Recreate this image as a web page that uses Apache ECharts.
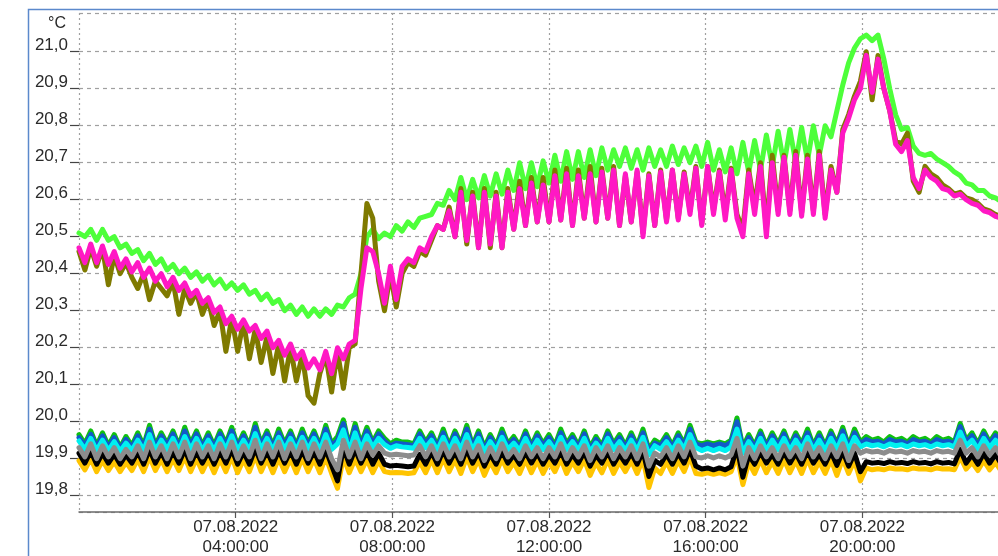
<!DOCTYPE html>
<html><head><meta charset="utf-8">
<script src="https://cdn.jsdelivr.net/npm/echarts@6/dist/echarts.min.js"></script>
<style>html,body{margin:0;padding:0;background:#fff}#c{width:998px;height:556px}</style>
</head><body><div id="c"></div>
<script>
// ---------- data ----------
const dateLabel = '07.08.2022';
const unitLabel = '°C';
const startHour = 0;      // first sample (hours after midnight)
const stepHours = 0.15;   // sampling interval of the logger (9 min)
const yMin = 19.8, yMax = 21.0, yStep = 0.1;
const xMin = 0, xMax = 24, xStep = 4;

const lightGreen = [
 20.51,20.50,20.52,20.49,20.52,20.49,20.50,20.47,20.48,20.455,20.465,20.435,20.455,20.425,20.44,20.41,20.425,20.40,20.415,20.39,
 20.405,20.38,20.395,20.37,20.385,20.36,20.375,20.355,20.37,20.345,20.355,20.33,20.345,20.32,20.33,20.30,20.315,20.29,20.31,20.285,
 20.305,20.285,20.305,20.29,20.315,20.31,20.335,20.345,20.40,20.50,20.52,20.495,20.51,20.50,20.53,20.515,20.54,20.525,20.55,20.555,
 20.56,20.59,20.585,20.625,20.60,20.66,20.60,20.655,20.605,20.665,20.61,20.67,20.615,20.68,20.625,20.70,20.63,20.70,20.635,20.705,
 20.645,20.72,20.65,20.73,20.655,20.73,20.66,20.735,20.665,20.74,20.68,20.735,20.69,20.74,20.685,20.735,20.68,20.74,20.69,20.735,
 20.69,20.745,20.695,20.74,20.70,20.745,20.69,20.755,20.68,20.735,20.675,20.74,20.67,20.755,20.675,20.76,20.68,20.775,20.69,20.785,
 20.695,20.79,20.70,20.795,20.705,20.80,20.72,20.80,20.77,20.84,20.91,20.97,21.01,21.035,21.045,21.03,21.045,20.98,20.90,20.83,
 20.79,20.795,20.745,20.725,20.72,20.725,20.71,20.70,20.69,20.675,20.665,20.645,20.64,20.625,20.625,20.61,20.605,20.595,20.59,20.585
];
const magenta = [
 20.47,20.43,20.48,20.43,20.475,20.425,20.46,20.415,20.44,20.405,20.43,20.39,20.415,20.38,20.40,20.365,20.39,20.355,20.375,20.34,
 20.355,20.32,20.335,20.295,20.31,20.265,20.285,20.25,20.275,20.245,20.26,20.225,20.245,20.20,20.22,20.18,20.21,20.17,20.19,20.145,
 20.17,20.14,20.19,20.13,20.20,20.17,20.21,20.22,20.36,20.47,20.46,20.40,20.32,20.42,20.33,20.42,20.44,20.43,20.47,20.46,
 20.50,20.53,20.52,20.57,20.50,20.62,20.49,20.61,20.47,20.62,20.48,20.61,20.47,20.62,20.52,20.63,20.53,20.645,20.54,20.64,
 20.54,20.665,20.545,20.67,20.53,20.665,20.55,20.67,20.54,20.675,20.55,20.68,20.53,20.67,20.54,20.68,20.50,20.665,20.53,20.675,
 20.54,20.68,20.545,20.67,20.56,20.685,20.53,20.69,20.56,20.675,20.545,20.68,20.55,20.50,20.67,20.56,20.69,20.50,20.70,20.56,
 20.715,20.56,20.72,20.555,20.71,20.56,20.72,20.55,20.68,20.62,20.78,20.82,20.87,20.90,20.99,20.89,20.98,20.90,20.84,20.75,
 20.73,20.76,20.66,20.63,20.68,20.66,20.65,20.63,20.625,20.61,20.615,20.60,20.59,20.585,20.57,20.565,20.555,20.55,20.555,20.55
];
const olive = [
 20.46,20.41,20.47,20.42,20.47,20.37,20.45,20.40,20.43,20.39,20.36,20.40,20.33,20.38,20.36,20.34,20.38,20.29,20.36,20.32,
 20.35,20.29,20.33,20.26,20.30,20.19,20.28,20.19,20.27,20.17,20.25,20.16,20.23,20.13,20.21,20.11,20.20,20.11,20.18,20.07,
 20.05,20.13,20.18,20.08,20.19,20.09,20.20,20.21,20.40,20.59,20.55,20.38,20.30,20.40,20.31,20.40,20.43,20.42,20.46,20.45,
 20.49,20.53,20.52,20.58,20.50,20.63,20.48,20.62,20.47,20.63,20.47,20.62,20.47,20.63,20.52,20.65,20.53,20.66,20.54,20.66,
 20.54,20.68,20.545,20.685,20.53,20.68,20.55,20.69,20.54,20.685,20.55,20.69,20.53,20.665,20.54,20.675,20.51,20.67,20.53,20.68,
 20.545,20.68,20.55,20.675,20.57,20.69,20.535,20.69,20.57,20.68,20.56,20.685,20.56,20.52,20.68,20.58,20.70,20.52,20.72,20.57,
 20.72,20.57,20.73,20.565,20.72,20.57,20.73,20.56,20.69,20.62,20.79,20.83,20.88,20.92,21.00,20.87,20.99,20.90,20.84,20.76,
 20.75,20.78,20.65,20.62,20.69,20.67,20.66,20.64,20.63,20.615,20.62,20.605,20.60,20.59,20.575,20.57,20.56,20.555,20.56,20.555
];
const green = [
 19.965,19.94,19.975,19.935,19.97,19.935,19.965,19.93,19.96,19.935,19.97,19.935,19.99,19.935,19.97,19.94,19.975,19.935,19.985,19.94,
 19.975,19.935,19.97,19.935,19.975,19.94,19.985,19.935,19.97,19.935,19.995,19.94,19.975,19.935,19.98,19.94,19.975,19.935,19.98,19.94,
 19.975,19.935,19.99,19.94,19.96,20.005,19.935,19.995,19.94,19.985,19.945,19.975,19.955,19.94,19.95,19.945,19.945,19.94,19.975,19.945,
 19.97,19.935,19.98,19.935,19.975,19.94,19.99,19.935,19.975,19.93,19.965,19.935,19.98,19.94,19.96,19.935,19.975,19.935,19.97,19.94,
 19.965,19.935,19.98,19.94,19.965,19.935,19.975,19.93,19.96,19.935,19.975,19.94,19.965,19.935,19.97,19.935,19.98,19.925,19.95,19.94,
 19.965,19.935,19.97,19.94,19.99,19.945,19.94,19.945,19.94,19.945,19.94,19.95,20.01,19.93,19.965,19.935,19.975,19.935,19.97,19.94,
 19.975,19.935,19.97,19.94,19.98,19.935,19.97,19.935,19.975,19.94,19.985,19.935,19.98,19.945,19.96,19.95,19.955,19.945,19.96,19.95,
 19.955,19.945,19.96,19.95,19.955,19.945,19.96,19.95,19.955,19.945,19.995,19.95,19.97,19.94,19.975,19.945,19.97,19.94,19.965,19.945
];
const blue = [
 19.957,19.935,19.966,19.930,19.962,19.930,19.957,19.927,19.952,19.930,19.962,19.930,19.980,19.930,19.962,19.935,19.967,19.930,19.975,19.935,
 19.967,19.930,19.962,19.930,19.967,19.935,19.975,19.930,19.962,19.930,19.985,19.935,19.967,19.930,19.970,19.935,19.967,19.930,19.970,19.935,
 19.967,19.930,19.980,19.935,19.950,19.995,19.930,19.985,19.935,19.975,19.940,19.967,19.947,19.935,19.942,19.940,19.938,19.935,19.967,19.940,
 19.962,19.930,19.970,19.930,19.967,19.935,19.980,19.930,19.967,19.925,19.957,19.930,19.970,19.935,19.952,19.930,19.967,19.930,19.962,19.935,
 19.957,19.930,19.970,19.935,19.957,19.930,19.967,19.925,19.952,19.930,19.967,19.935,19.957,19.930,19.962,19.930,19.970,19.920,19.942,19.935,
 19.957,19.930,19.962,19.935,19.980,19.940,19.935,19.940,19.935,19.940,19.935,19.945,20.000,19.925,19.957,19.930,19.967,19.930,19.962,19.935,
 19.967,19.930,19.962,19.935,19.970,19.930,19.962,19.930,19.967,19.935,19.975,19.930,19.970,19.940,19.952,19.945,19.947,19.940,19.952,19.945,
 19.947,19.940,19.952,19.945,19.947,19.940,19.952,19.945,19.947,19.940,19.987,19.945,19.962,19.935,19.967,19.940,19.962,19.935,19.957,19.940
];
const cyan = [
 19.948,19.925,19.955,19.922,19.950,19.922,19.946,19.920,19.942,19.922,19.950,19.922,19.965,19.922,19.950,19.925,19.955,19.922,19.960,19.925,
 19.955,19.922,19.950,19.922,19.955,19.925,19.962,19.922,19.950,19.922,19.968,19.925,19.955,19.922,19.958,19.925,19.955,19.922,19.958,19.925,
 19.955,19.922,19.965,19.925,19.940,19.978,19.920,19.970,19.925,19.962,19.930,19.955,19.938,19.928,19.935,19.932,19.930,19.928,19.955,19.930,
 19.950,19.922,19.958,19.922,19.955,19.925,19.965,19.922,19.955,19.918,19.946,19.922,19.958,19.925,19.942,19.922,19.955,19.922,19.950,19.925,
 19.946,19.922,19.958,19.925,19.946,19.922,19.955,19.918,19.942,19.922,19.955,19.925,19.946,19.922,19.950,19.922,19.958,19.910,19.935,19.925,
 19.946,19.922,19.950,19.925,19.965,19.930,19.922,19.928,19.922,19.928,19.922,19.932,19.980,19.915,19.946,19.922,19.955,19.922,19.950,19.925,
 19.955,19.922,19.950,19.925,19.958,19.922,19.950,19.922,19.955,19.925,19.962,19.922,19.958,19.932,19.940,19.935,19.938,19.932,19.940,19.935,
 19.938,19.932,19.940,19.935,19.938,19.932,19.940,19.935,19.938,19.932,19.972,19.935,19.950,19.925,19.955,19.930,19.950,19.925,19.946,19.930
];
const gray = [
 19.930,19.905,19.940,19.900,19.935,19.905,19.930,19.900,19.925,19.905,19.935,19.900,19.945,19.905,19.935,19.900,19.940,19.905,19.945,19.900,
 19.940,19.905,19.935,19.900,19.940,19.905,19.945,19.900,19.935,19.905,19.950,19.900,19.940,19.905,19.945,19.900,19.940,19.905,19.945,19.900,
 19.940,19.905,19.945,19.900,19.870,19.950,19.905,19.945,19.900,19.940,19.910,19.935,19.915,19.910,19.912,19.910,19.908,19.910,19.935,19.905,
 19.935,19.900,19.940,19.905,19.935,19.900,19.945,19.905,19.935,19.895,19.930,19.900,19.940,19.905,19.925,19.900,19.935,19.905,19.930,19.900,
 19.930,19.905,19.940,19.900,19.930,19.905,19.935,19.895,19.930,19.905,19.935,19.900,19.930,19.905,19.935,19.900,19.940,19.880,19.915,19.905,
 19.930,19.900,19.935,19.905,19.945,19.905,19.902,19.908,19.902,19.908,19.902,19.910,19.955,19.880,19.930,19.900,19.935,19.905,19.930,19.900,
 19.935,19.905,19.930,19.900,19.940,19.905,19.930,19.900,19.935,19.905,19.940,19.895,19.935,19.915,19.922,19.918,19.920,19.915,19.922,19.918,
 19.920,19.915,19.922,19.918,19.920,19.915,19.922,19.918,19.920,19.915,19.950,19.915,19.930,19.905,19.935,19.910,19.930,19.905,19.925,19.910
];
const black = [
 19.915,19.888,19.920,19.885,19.915,19.888,19.912,19.885,19.910,19.888,19.918,19.885,19.925,19.888,19.918,19.885,19.920,19.888,19.925,19.885,
 19.920,19.888,19.918,19.885,19.920,19.888,19.925,19.885,19.918,19.885,19.928,19.888,19.920,19.885,19.922,19.888,19.920,19.885,19.922,19.888,
 19.920,19.885,19.925,19.882,19.840,19.930,19.885,19.925,19.888,19.920,19.885,19.915,19.885,19.880,19.882,19.880,19.878,19.880,19.912,19.885,
 19.918,19.885,19.922,19.888,19.918,19.885,19.925,19.888,19.918,19.880,19.912,19.885,19.920,19.888,19.910,19.885,19.918,19.888,19.915,19.885,
 19.912,19.888,19.920,19.885,19.912,19.888,19.918,19.880,19.910,19.888,19.918,19.885,19.912,19.888,19.915,19.885,19.920,19.852,19.895,19.885,
 19.912,19.885,19.915,19.888,19.925,19.880,19.872,19.875,19.870,19.875,19.870,19.878,19.930,19.850,19.910,19.885,19.918,19.888,19.912,19.885,
 19.918,19.888,19.915,19.885,19.920,19.888,19.912,19.885,19.918,19.882,19.920,19.880,19.915,19.865,19.892,19.888,19.890,19.887,19.892,19.888,
 19.890,19.887,19.892,19.888,19.890,19.886,19.892,19.888,19.890,19.886,19.925,19.888,19.910,19.885,19.915,19.888,19.912,19.885,19.908,19.888
];
const yellow = [
 19.895,19.870,19.900,19.865,19.895,19.868,19.892,19.865,19.890,19.868,19.898,19.865,19.905,19.868,19.898,19.865,19.900,19.868,19.905,19.865,
 19.900,19.865,19.898,19.862,19.900,19.865,19.905,19.862,19.898,19.865,19.908,19.865,19.900,19.862,19.902,19.865,19.900,19.862,19.902,19.865,
 19.900,19.862,19.905,19.860,19.820,19.905,19.862,19.900,19.865,19.898,19.862,19.895,19.865,19.862,19.863,19.862,19.860,19.862,19.892,19.862,
 19.898,19.862,19.902,19.865,19.898,19.860,19.905,19.865,19.898,19.855,19.892,19.862,19.900,19.865,19.890,19.860,19.898,19.862,19.895,19.860,
 19.892,19.865,19.900,19.860,19.892,19.865,19.898,19.855,19.890,19.862,19.898,19.860,19.892,19.865,19.895,19.860,19.900,19.822,19.875,19.860,
 19.892,19.860,19.895,19.865,19.905,19.860,19.858,19.862,19.858,19.862,19.858,19.865,19.908,19.830,19.890,19.860,19.898,19.862,19.892,19.860,
 19.898,19.862,19.895,19.860,19.900,19.862,19.892,19.860,19.898,19.855,19.900,19.860,19.895,19.840,19.875,19.870,19.873,19.870,19.875,19.872,
 19.873,19.870,19.875,19.872,19.873,19.870,19.875,19.872,19.873,19.870,19.905,19.872,19.890,19.868,19.895,19.870,19.890,19.866,19.888,19.870
];

// ---------- styles (kept apart from the data) ----------
const seriesStyle = [
  { name: 'S9', values: yellow,     color: '#ffc400' },
  { name: 'S8', values: black,      color: '#000000' },
  { name: 'S4', values: green,      color: '#10c010' },
  { name: 'S5', values: blue,       color: '#1258c8' },
  { name: 'S6', values: cyan,       color: '#00f0f0' },
  { name: 'S7', values: gray,       color: '#8c8c8c' },
  { name: 'S1', values: lightGreen, color: '#4dff3a' },
  { name: 'S2', values: olive,      color: '#7f7a00' },
  { name: 'S3', values: magenta,    color: '#ff18c4' }
];

const FONT = '"Liberation Sans", Arial, sans-serif';
const pad2 = n => String(n).padStart(2, '0');

const chart = echarts.init(document.getElementById('c'), null, { renderer: 'canvas' });
chart.setOption({
  animation: false,
  backgroundColor: '#ffffff',
  textStyle: { fontFamily: FONT },
  title: {
    text: unitLabel, left: 43, top: 11,
    textStyle: { fontFamily: FONT, fontSize: 16, fontWeight: 'normal', color: '#2a2a2a' }
  },
  graphic: [{
    type: 'rect', silent: true, z: 100,
    shape: { x: 28.5, y: 9.5, width: 1000, height: 600 },
    style: { fill: 'none', stroke: '#5b89cc', lineWidth: 1.5 }
  }],
  grid: [
    { left: 79, right: -21, top: 13, bottom: 44, outerBoundsMode: 'none', containLabel: false },
    { left: 79, right: -21, top: 51.7, bottom: 60.3, outerBoundsMode: 'none', containLabel: false }
  ],
  xAxis: [
    {
      type: 'value', gridIndex: 0, min: xMin, max: xMax, interval: xStep,
      axisLine: { show: true, onZero: false, lineStyle: { color: '#6a6a6a', width: 1.5 } },
      axisTick: { show: true, length: 6, lineStyle: { color: '#555', width: 1.2 } },
      splitLine: { show: true, lineStyle: { color: '#a0a0a0', width: 1.2, type: [2, 3] } },
      axisLabel: {
        showMinLabel: false, showMaxLabel: false, margin: 5, fontSize: 17, lineHeight: 20, color: '#2a2a2a', fontFamily: FONT,
        formatter: v => dateLabel + '\n' + pad2(v) + ':00:00'
      }
    },
    { type: 'value', gridIndex: 1, min: xMin, max: xMax, interval: xStep, show: false }
  ],
  yAxis: [
    {
      type: 'value', gridIndex: 0, min: 0, max: 1, interval: 1,
      axisLine: { show: false }, axisTick: { show: false }, axisLabel: { show: false },
      splitLine: { show: true, lineStyle: { color: '#a0a0a0', width: 1.2, type: [4, 4] } }
    },
    {
      type: 'value', gridIndex: 1, min: yMin, max: yMax, interval: yStep,
      axisLine: { show: false },
      axisTick: { show: true, length: 9, lineStyle: { color: '#444', width: 1.2 } },
      splitLine: { show: true, lineStyle: { color: '#a0a0a0', width: 1.2, type: [4, 4] } },
      axisLabel: {
        margin: 11, fontSize: 17, lineHeight: 13, verticalAlign: 'bottom', color: '#2a2a2a', fontFamily: FONT,
        formatter: v => v.toFixed(1).replace('.', ',')
      }
    }
  ],
  series: seriesStyle.map(s => ({
    name: s.name, type: 'line', xAxisIndex: 1, yAxisIndex: 1,
    showSymbol: false, symbol: 'none', clip: false, silent: true,
    lineStyle: { color: s.color, width: 5, join: 'round', cap: 'round' },
    data: s.values.map((v, i) => [startHour + i * stepHours, v])
  }))
});
</script></body></html>
